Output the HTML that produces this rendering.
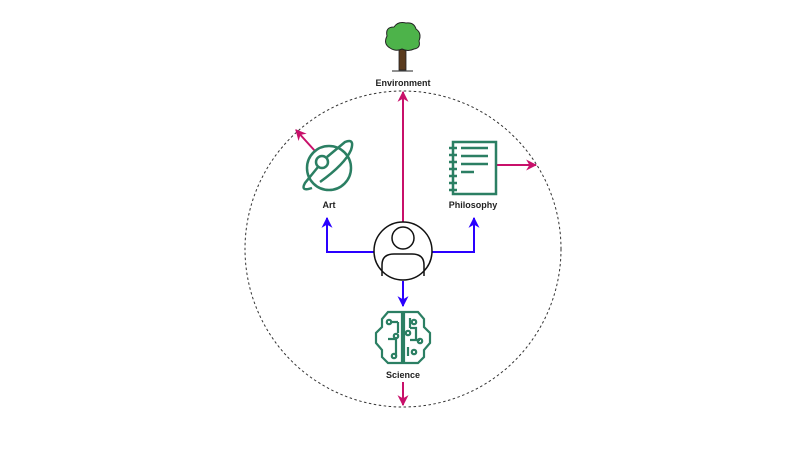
<!DOCTYPE html><html><head><style>body{margin:0;background:#fff}svg{display:block}text{font-family:"Liberation Sans",sans-serif;font-size:9px;font-weight:bold;fill:#222;text-anchor:middle}</style></head><body>
<svg width="800" height="450" viewBox="0 0 800 450">
<defs>
<marker id="m" viewBox="0 0 10 10" refX="9" refY="5" markerWidth="5.5" markerHeight="5.5" orient="auto"><path d="M0,0L10,5L0,10L3,5z" fill="#c8106a"/></marker>
<marker id="b" viewBox="0 0 10 10" refX="9" refY="5" markerWidth="5.5" markerHeight="5.5" orient="auto"><path d="M0,0L10,5L0,10L3,5z" fill="#2a00ff"/></marker>
</defs>
<circle cx="403" cy="249" r="158" fill="none" stroke="#333" stroke-width="1" stroke-dasharray="2.5,2.5"/>
<g stroke="#2a00ff" stroke-width="2" fill="none">
<path d="M374,252H327V218" marker-end="url(#b)"/>
<path d="M432,252H474V218" marker-end="url(#b)"/>
<path d="M403,281V306" marker-end="url(#b)"/>
</g>
<g stroke="#c8106a" stroke-width="2" fill="none">
<path d="M403,222V92" marker-end="url(#m)"/>
<path d="M315,151L296,130" marker-end="url(#m)"/>
<path d="M497,165H536" marker-end="url(#m)"/>
<path d="M403,382V405" marker-end="url(#m)"/>
</g>
<circle cx="403" cy="251" r="29" fill="#fff" stroke="#111" stroke-width="1.5"/>
<circle cx="403" cy="238" r="11" fill="none" stroke="#111" stroke-width="1.5"/>
<path d="M382,276V265Q382,254 394,254H412Q424,254 424,265V276" fill="none" stroke="#111" stroke-width="1.5"/>
<rect x="399" y="45" width="7" height="25" fill="#5a3b1e" stroke="#222" stroke-width="0.8"/>
<path d="M390,48Q383,44 387,36Q385,27 394,27Q398,21 406,23Q414,22 416,29Q422,33 419,41Q421,48 414,49Q408,52 402,49Q396,52 390,48z" fill="#4db34a" stroke="#222" stroke-width="1"/>
<line x1="392" y1="71" x2="413" y2="71" stroke="#222"/>
<text x="403" y="86">Environment</text>
<g stroke="#2b7f63" stroke-width="2.5" fill="none">
<circle cx="329" cy="168" r="22"/>
<circle cx="322" cy="162" r="6"/>
<path d="M318,167L305,183Q300,192 312,188M327,157L345,142Q355,138 351,150Q345,164 320,182"/>
</g>
<text x="329" y="208">Art</text>
<g stroke="#2b7f63" stroke-width="2.5" fill="none">
<rect x="453" y="142" width="43" height="52"/>
<path d="M461,148H488M461,156H488M461,164H488M461,172H474"/>
<path d="M449,148h8M449,155h8M449,162h8M449,169h8M449,176h8M449,183h8M449,190h8"/>
</g>
<text x="473" y="208">Philosophy</text>
<g stroke="#2b7f63" stroke-width="2.2" fill="none">
<path d="M402,312H388L382,319V327L376,333V343L382,350V357L388,363H402ZM404,312H418L424,319V327L430,333V343L424,350V357L418,363H404Z"/>
<path d="M391,322H398M398,322V333M396,345V356M388,339H396V345M410,318V328M410,328H416V340M410,340H420M408,347V356"/>
<circle cx="389" cy="322" r="2.2"/><circle cx="396" cy="336" r="2.2"/><circle cx="394" cy="356" r="2.2"/><circle cx="414" cy="322" r="2.2"/><circle cx="408" cy="333" r="2.2"/><circle cx="420" cy="341" r="2.2"/><circle cx="414" cy="352" r="2.2"/>
</g>
<text x="403" y="378">Science</text>
</svg></body></html>
